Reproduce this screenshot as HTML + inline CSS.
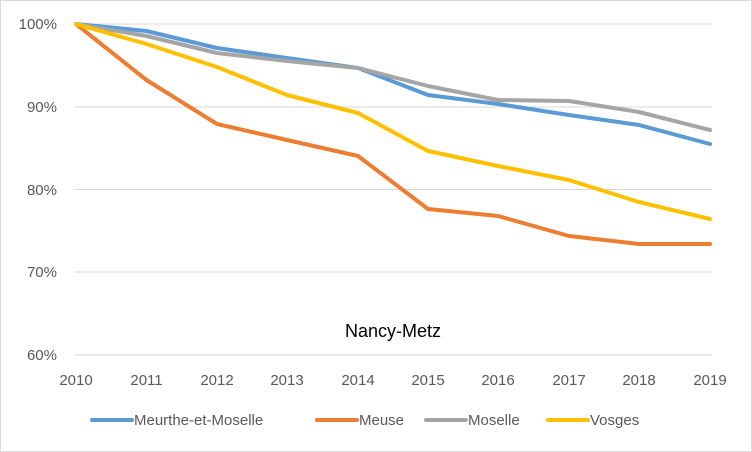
<!DOCTYPE html>
<html><head><meta charset="utf-8"><style>
html,body{margin:0;padding:0;background:#fff}
svg{display:block}
text{font-family:"Liberation Sans",sans-serif;fill:#595959}
</style></head><body>
<svg width="752" height="452" viewBox="0 0 752 452" xmlns="http://www.w3.org/2000/svg">
<rect x="0.5" y="0.5" width="751" height="451" fill="#fff" stroke="#d9d9d9" stroke-width="1"/>
<g stroke="#d9d9d9" stroke-width="1">
<line x1="74" y1="24" x2="712" y2="24"/>
<line x1="74" y1="107" x2="712" y2="107"/>
<line x1="74" y1="189.5" x2="712" y2="189.5"/>
<line x1="74" y1="272" x2="712" y2="272"/>
<line x1="74" y1="355" x2="712" y2="355"/>
</g>
<g font-size="15" text-anchor="end">
<text x="57" y="29">100%</text>
<text x="57" y="112">90%</text>
<text x="57" y="195">80%</text>
<text x="57" y="277">70%</text>
<text x="57" y="360">60%</text>
</g>
<g font-size="15" text-anchor="middle">
<text x="76" y="385">2010</text><text x="146.5" y="385">2011</text><text x="217" y="385">2012</text>
<text x="287" y="385">2013</text><text x="358" y="385">2014</text><text x="428" y="385">2015</text>
<text x="498" y="385">2016</text><text x="569" y="385">2017</text><text x="639" y="385">2018</text>
<text x="710" y="385">2019</text>
</g>
<text x="393" y="337" font-size="18" text-anchor="middle" style="fill:#000">Nancy-Metz</text>
<g fill="none" stroke-width="4" stroke-linejoin="round" stroke-linecap="round">
<polyline stroke="#5b9bd5" points="76,24 146.5,31 217,48 287,58 358,68 428,95 498,104 569,115 639,125 710,144"/>
<polyline stroke="#ed7d31" points="76,24 146.5,80 217,124 287,140 358,156 428,209 498,216 569,236 639,244 710,244"/>
<polyline stroke="#a5a5a5" points="76,24 146.5,36 217,53 287,61 358,68 428,86 498,100 569,101 639,112 710,130"/>
<polyline stroke="#ffc000" points="76,24 146.5,44 217,67 287,95 358,113 428,151 498,166 569,180 639,202 710,219"/>
</g>
<g stroke-width="4" stroke-linecap="round">
<line x1="92" y1="420" x2="132" y2="420" stroke="#5b9bd5"/>
<line x1="317" y1="420" x2="357" y2="420" stroke="#ed7d31"/>
<line x1="426" y1="420" x2="466" y2="420" stroke="#a5a5a5"/>
<line x1="548" y1="420" x2="588" y2="420" stroke="#ffc000"/>
</g>
<g font-size="15">
<text x="134" y="425">Meurthe-et-Moselle</text>
<text x="359" y="425">Meuse</text>
<text x="468" y="425">Moselle</text>
<text x="590" y="425">Vosges</text>
</g>
</svg>
</body></html>
